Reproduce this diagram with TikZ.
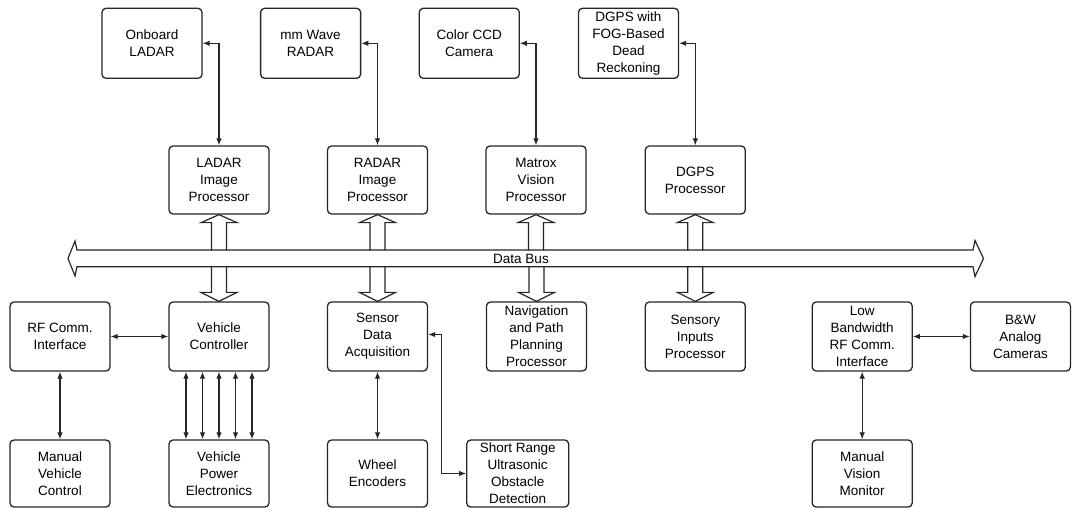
\documentclass[tikz,border=0pt]{standalone}
\usepackage{fontspec}
\setmainfont{Liberation Sans}
\usetikzlibrary{arrows.meta,calc}
\begin{document}
\begin{tikzpicture}[x=1pt,y=-1pt,
  box/.style={draw=black!85,line width=1.3pt,rounded corners=4pt,minimum width=100pt,minimum height=69pt,align=center,inner sep=1pt,font=\fontsize{13.5}{17}\selectfont},
  tbox/.style={box,minimum height=70pt},
  pbox/.style={box,minimum height=68pt},
  lbox/.style={box,minimum height=67pt},
  conn/.style={line width=1.1pt,draw=black!85,{Latex[length=7pt,width=5.5pt]}-{Latex[length=7pt,width=5.5pt]}},
  hollow/.style={line width=1.2pt,draw=black!85,line join=miter},
  lbl/.style={inner sep=1pt,font=\fontsize{13.5}{17}\selectfont},
  busup/.pic={\draw[hollow] (-7.5,36) -- (-7.5,8) -- (-18,8) -- (0,0) -- (18,8) -- (7.5,8) -- (7.5,36);},
  busdown/.pic={\draw[hollow] (-7.5,-35.3) -- (-7.5,-9) -- (-18,-9) -- (0,0) -- (18,-9) -- (7.5,-9) -- (7.5,-35.3);}
]
\fill[white] (0,0) rectangle (1072,508);
\useasboundingbox (0,0) rectangle (1072,508);

% top sensors
\node[tbox] (olad) at (152,43.3) {Onboard\\LADAR};
\node[tbox] (mmw) at (310.6,43.3) {mm Wave\\RADAR};
\node[tbox] (ccd) at (469.2,43.3) {Color CCD\\Camera};
\node[tbox] (dgpsf) at (628.5,43.3) {DGPS with\\FOG-Based\\Dead\\Reckoning};

% processors
\node[pbox] (ladarp) at (219,180) {LADAR\\Image\\Processor};
\node[pbox] (radarp) at (377.5,180) {RADAR\\Image\\Processor};
\node[pbox] (matrox) at (536,180) {Matrox\\Vision\\Processor};
\node[pbox] (dgpsp) at (695.3,180) {DGPS\\Processor};

% row 1
\node[box] (rf) at (60,336.5) {RF Comm.\\Interface};
\node[box] (vc) at (219,336.5) {Vehicle\\Controller};
\node[box] (sda) at (377.5,336.5) {Sensor\\Data\\Acquisition};
\node[box] (nav) at (536.5,336.5) {Navigation\\and Path\\Planning\\Processor};
\node[box] (sip) at (695.3,336.5) {Sensory\\Inputs\\Processor};
\node[box] (lb) at (862.2,336.5) {Low\\Bandwidth\\RF Comm.\\Interface};
\node[box] (bw) at (1020.4,336.5) {B\&W\\Analog\\Cameras};

% row 2
\node[lbox] (mvc) at (60,473.5) {Manual\\Vehicle\\Control};
\node[lbox] (vpe) at (219,473.5) {Vehicle\\Power\\Electronics};
\node[lbox] (we) at (377.5,473.5) {Wheel\\Encoders};
\node[lbox,minimum width=102pt] (sr) at (517.7,473.5) {Short Range\\Ultrasonic\\Obstacle\\Detection};
\node[lbox] (mvm) at (862.2,473.5) {Manual\\Vision\\Monitor};

% data bus
\draw[hollow] (77,250) -- (973,250) -- (975,240.5) -- (983.5,258.5) -- (975,276.5) -- (973,266.7)
  -- (77,266.7) -- (75,276) -- (68,258.5) -- (75,241) -- cycle;
\node[lbl] (busl) at (521,258.5) {Data Bus};

% hollow bus arrows
\pic at (ladarp.south) {busup};
\pic at (radarp.south) {busup};
\pic at (matrox.south) {busup};
\pic at (dgpsp.south) {busup};
\pic at (vc.north) {busdown};
\pic at (sda.north) {busdown};
\pic at (nav.north) {busdown};
\pic at (sip.north) {busdown};

% sensor links
\draw[conn] (olad.east) -| (ladarp.north);
\draw[conn] (mmw.east) -| (radarp.north);
\draw[conn] (ccd.east) -| (matrox.north);
\draw[conn] (dgpsf.east) -| (dgpsp.north);

% lower links
\draw[conn] (rf.east) -- (vc.west);
\draw[conn] (rf.south) -- (mvc.north);
\foreach \dx in {-33,-16.5,0,16.5,33}
  \draw[conn] ([xshift=\dx pt]vc.south) -- ([xshift=\dx pt]vpe.north);
\draw[conn] (sda.east) ++(0,-2) coordinate (sdae) -- ++(13.5,0) |- (sr.west);
\draw[conn] (sda.south) -- (we.north);
\draw[conn] (lb.east) -- (bw.west);
\draw[conn] (lb.south) -- (mvm.north);
\end{tikzpicture}
\end{document}
